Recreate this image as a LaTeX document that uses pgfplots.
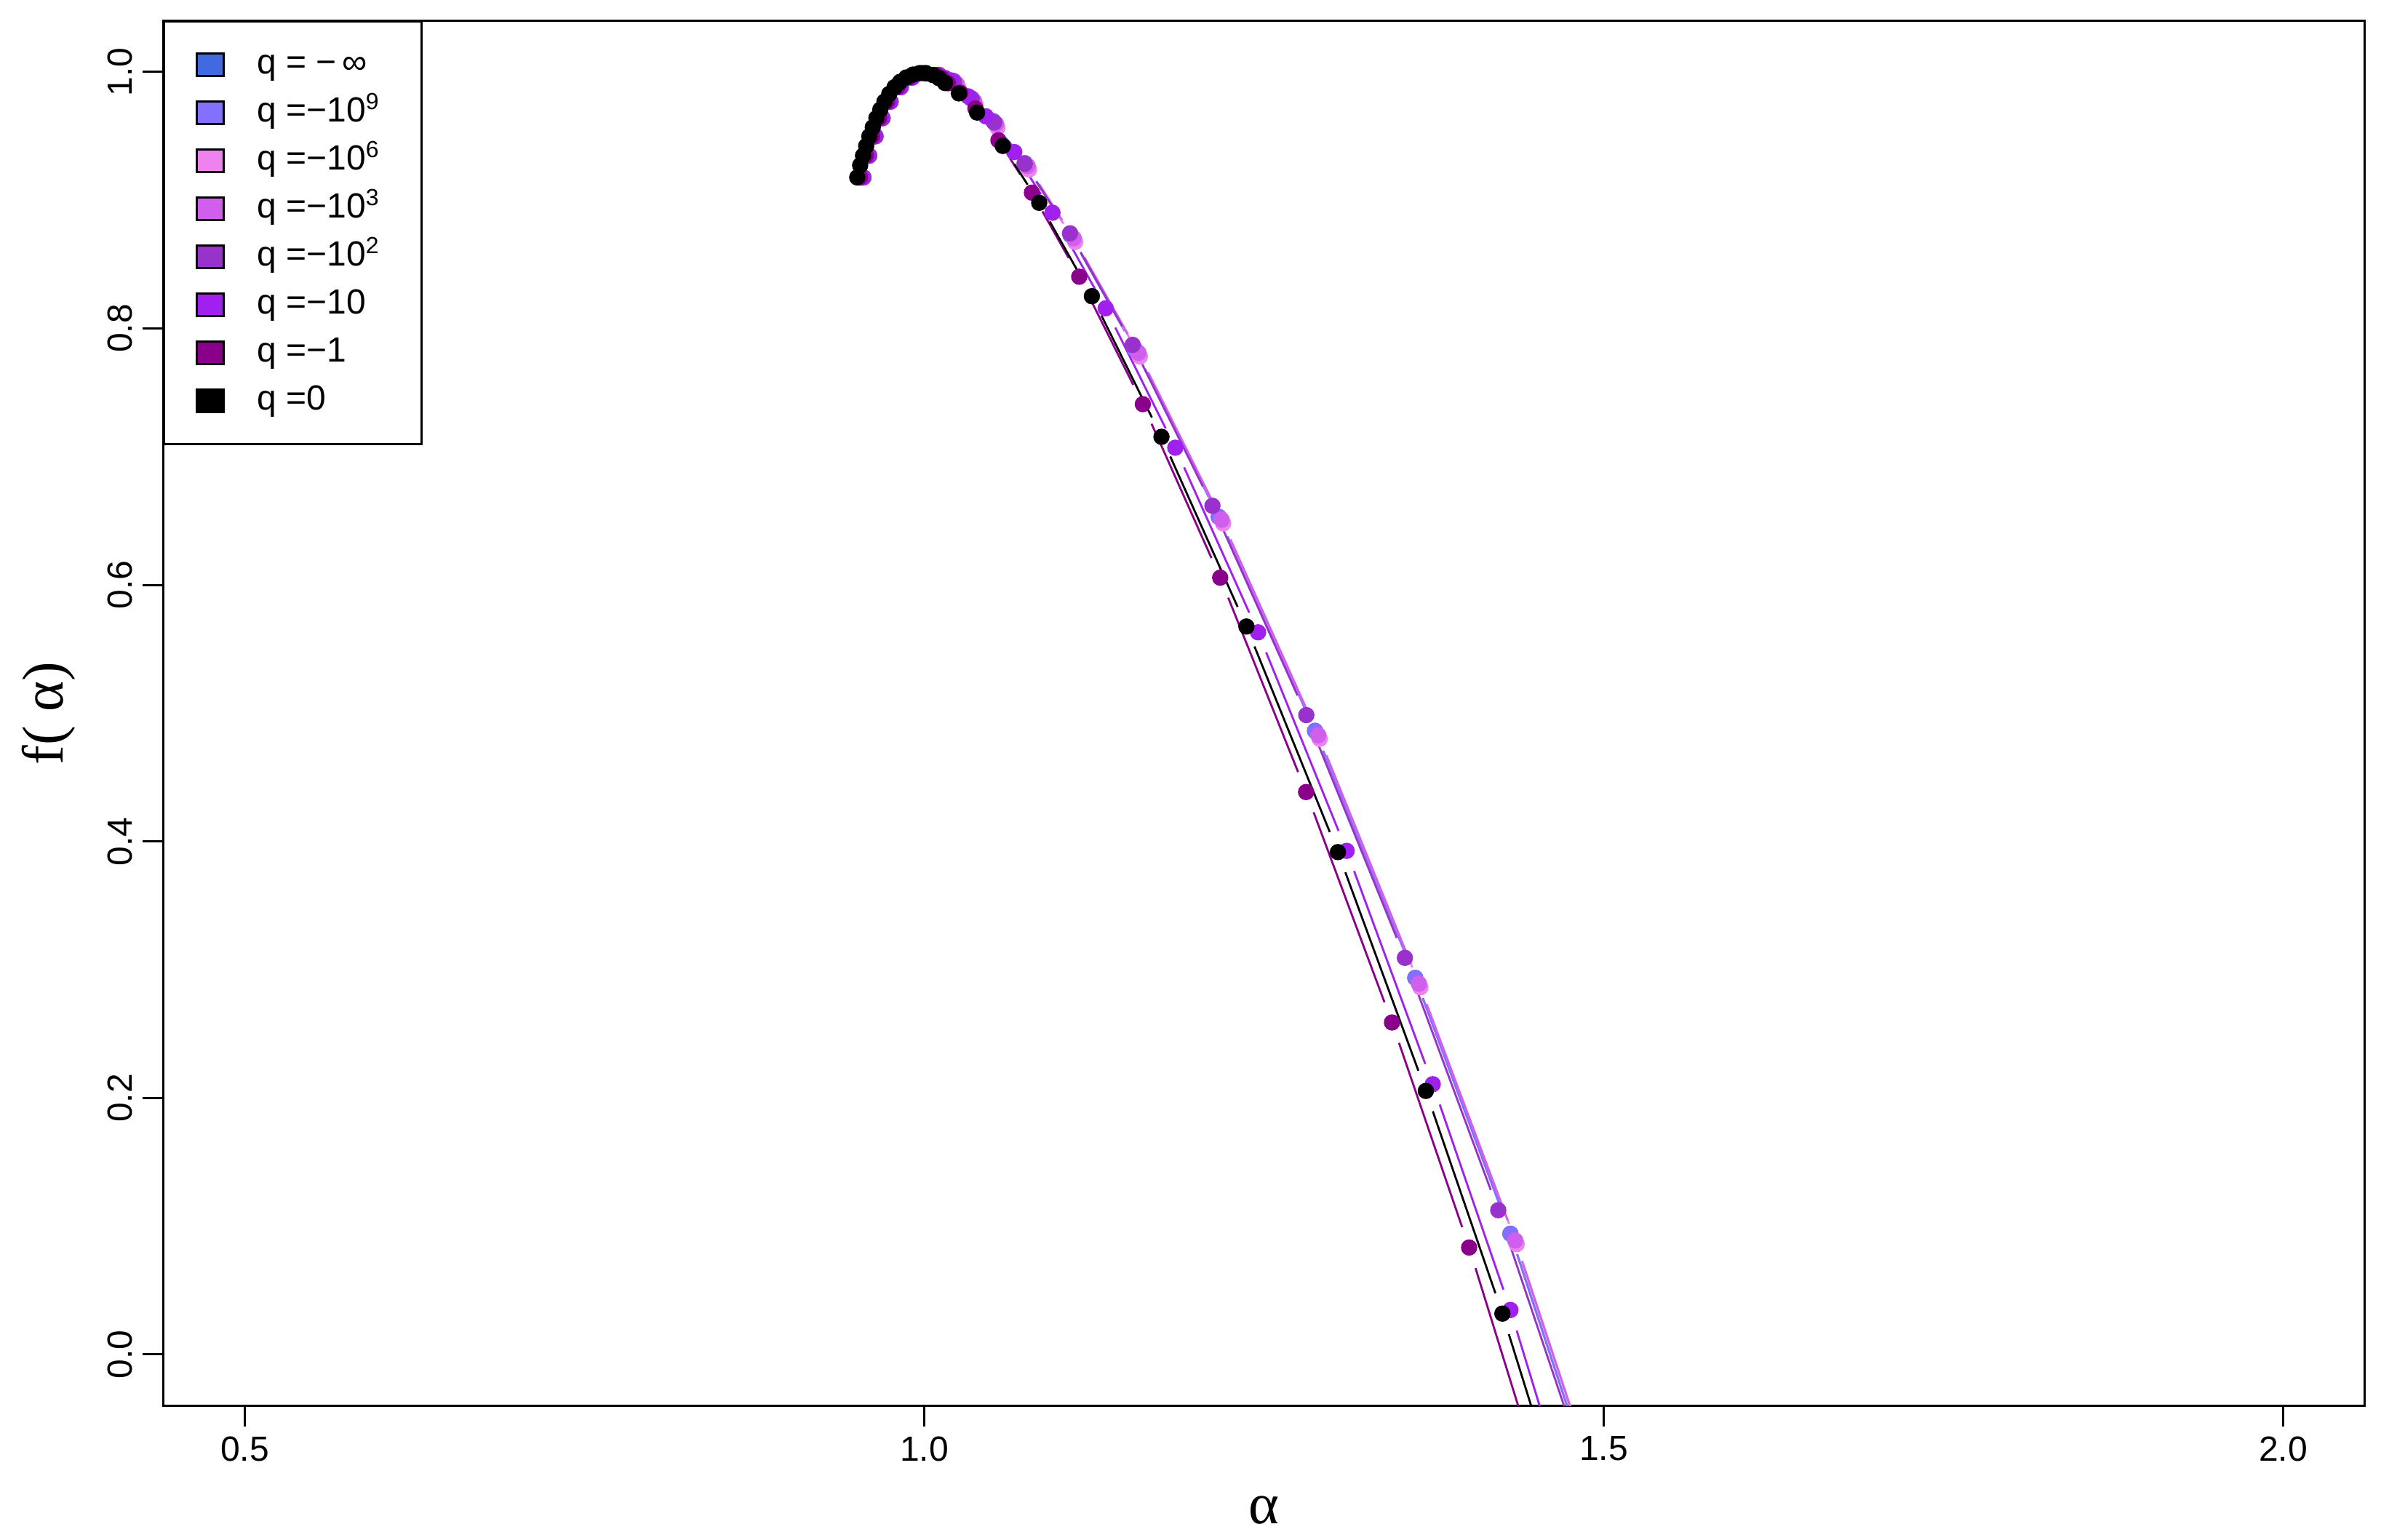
\documentclass[border=0pt]{standalone}
\usepackage{fontspec}
\setmainfont{Liberation Sans}
\newfontfamily\lserif{Liberation Serif}
\usepackage{pgfplots}
\usepackage{pgfplotstable}
\pgfplotsset{compat=1.18}

\definecolor{cR}{HTML}{4169E1}
\definecolor{cL}{HTML}{8470FF}
\definecolor{cV}{HTML}{EE82EE}
\definecolor{cO}{HTML}{D15FEE}
\definecolor{cD}{HTML}{9932CC}
\definecolor{cP}{HTML}{A020F0}
\definecolor{cM}{HTML}{8B008B}

% ---------- points (alpha, f(alpha)) ----------
\pgfplotstableread{
x y
0.95064 0.91772
0.95277 0.92715
0.95491 0.93470
0.95724 0.94225
0.95956 0.94979
0.96206 0.95677
0.96474 0.96394
0.96760 0.97055
0.97063 0.97678
0.97420 0.98281
0.97813 0.98810
0.98223 0.99225
0.98670 0.99564
0.99170 0.99791
0.99652 0.99904
1.00134 0.99885
1.00634 0.99753
1.01080 0.99508
1.01527 0.99130
1.02544 0.98319
1.03883 0.96829
1.05776 0.94225
1.08454 0.89791
1.12330 0.82510
1.17450 0.71546
1.23701 0.56756
1.30434 0.39169
1.36904 0.20547
1.42539 0.03187
}\ptB
\pgfplotstableread{
x y u v
1.05776 0.94225 0.02678 -0.04434
1.08454 0.89791 0.03876 -0.07281
1.12330 0.82510 0.05120 -0.10964
1.17450 0.71546 0.06251 -0.14790
1.23701 0.56756 0.06733 -0.17587
1.30434 0.39169 0.06470 -0.18622
1.36904 0.20547 0.05635 -0.17360
1.42539 0.03187 0.04836 -0.16432
}\sgB

\pgfplotstableread{
x y
0.95264 0.91772
0.95691 0.93470
0.96156 0.94979
0.96674 0.96394
0.97263 0.97678
0.98013 0.98810
0.98870 0.99564
0.99852 0.99904
1.00834 0.99753
1.01280 0.99508
1.01741 0.99111
1.02652 0.98376
1.03760 0.97147
1.05453 0.94668
1.07916 0.90581
1.11398 0.84027
1.16079 0.74093
1.21773 0.60565
1.28093 0.43850
1.34414 0.25885
1.40091 0.08338
}\ptM
\pgfplotstableread{
x y u v
1.05453 0.94668 0.02463 -0.04087
1.07916 0.90581 0.03482 -0.06554
1.11398 0.84027 0.04681 -0.09934
1.16079 0.74093 0.05694 -0.13528
1.21773 0.60565 0.06320 -0.16715
1.28093 0.43850 0.06321 -0.17965
1.34414 0.25885 0.05677 -0.17547
1.40091 0.08338 0.04805 -0.16432
}\sgM

\pgfplotstableread{
x y
0.95414 0.91772
0.95841 0.93470
0.96306 0.94979
0.96824 0.96394
0.97413 0.97678
0.98163 0.98810
0.99020 0.99564
1.00002 0.99904
1.00984 0.99753
1.01430 0.99508
1.01955 0.99338
1.03225 0.98092
1.04526 0.96536
1.06615 0.93751
1.09427 0.89019
1.13347 0.81565
1.18467 0.70697
1.24558 0.56303
1.31077 0.39265
1.37413 0.21073
1.43128 0.03470
}\ptP
\pgfplotstableread{
x y u v
1.06615 0.93751 0.02812 -0.04732
1.09427 0.89019 0.03920 -0.07454
1.13347 0.81565 0.05120 -0.10868
1.18467 0.70697 0.06091 -0.14394
1.24558 0.56303 0.06519 -0.17038
1.31077 0.39265 0.06336 -0.18192
1.37413 0.21073 0.05715 -0.17603
1.43128 0.03470 0.04890 -0.16998
}\sgP

\pgfplotstableread{
x y
0.95514 0.91772
0.95941 0.93470
0.96406 0.94979
0.96924 0.96394
0.97513 0.97678
0.98263 0.98810
0.99120 0.99564
1.00102 0.99904
1.01084 0.99753
1.01530 0.99508
1.02169 0.99225
1.03492 0.97906
1.05142 0.96055
1.07391 0.92828
1.10723 0.87412
1.15329 0.78717
1.21200 0.66169
1.28109 0.49850
1.35361 0.30922
1.42233 0.11247
}\ptD
\pgfplotstableread{
x y u v
1.05142 0.96055 0.02249 -0.03227
1.07391 0.92828 0.03332 -0.05416
1.10723 0.87412 0.04606 -0.08695
1.15329 0.78717 0.05871 -0.12548
1.21200 0.66169 0.06909 -0.16319
1.28109 0.49850 0.07252 -0.18928
1.35361 0.30922 0.06872 -0.19675
1.42233 0.11247 0.06107 -0.19228
}\sgD

\pgfplotstableread{
x y
0.95514 0.91772
0.95941 0.93470
0.96406 0.94979
0.96924 0.96394
0.97513 0.97678
0.98263 0.98810
0.99120 0.99564
1.00102 0.99904
1.01084 0.99753
1.01530 0.99508
1.02383 0.99055
1.03669 0.97696
1.05276 0.95942
1.07595 0.92670
1.10991 0.87027
1.15758 0.78095
1.21880 0.65076
1.28988 0.48282
1.36395 0.28907
1.43482 0.08887
}\ptO
\pgfplotstableread{
x y u v
1.05276 0.95942 0.02319 -0.03272
1.07595 0.92670 0.03396 -0.05643
1.10991 0.87027 0.04767 -0.08932
1.15758 0.78095 0.06122 -0.13019
1.21880 0.65076 0.07108 -0.16794
1.28988 0.48282 0.07407 -0.19375
1.36395 0.28907 0.07087 -0.20020
1.43482 0.08887 0.06357 -0.20377
}\sgO

\pgfplotstableread{
x y
0.95514 0.91772
0.95941 0.93470
0.96406 0.94979
0.96924 0.96394
0.97513 0.97678
0.98263 0.98810
0.99120 0.99564
1.00102 0.99904
1.01084 0.99753
1.01530 0.99508
1.02490 0.98772
1.03776 0.97413
1.05383 0.95659
1.07702 0.92387
1.11098 0.86744
1.15865 0.77812
1.21987 0.64793
1.29095 0.47999
1.36502 0.28624
1.43589 0.08604
}\ptV
\pgfplotstableread{
x y u v
1.05383 0.95659 0.02319 -0.03272
1.07702 0.92387 0.03396 -0.05643
1.11098 0.86744 0.04767 -0.08932
1.15865 0.77812 0.06122 -0.13019
1.21987 0.64793 0.07108 -0.16794
1.29095 0.47999 0.07407 -0.19375
1.36502 0.28624 0.07087 -0.20020
1.43589 0.08604 0.06357 -0.20377
}\sgV

\pgfplotstableread{
x y
0.95514 0.91772
0.95941 0.93470
0.96406 0.94979
0.96924 0.96394
0.97513 0.97678
0.98263 0.98810
0.99120 0.99564
1.00102 0.99904
1.01084 0.99753
1.01530 0.99508
1.02169 0.99281
1.03455 0.97923
1.05061 0.96168
1.07381 0.92885
1.10766 0.87282
1.15522 0.78338
1.21666 0.65303
1.28752 0.48622
1.36127 0.29360
1.43128 0.09413
}\ptL
\pgfplotstableread{
x y u v
1.05061 0.96168 0.02320 -0.03283
1.07381 0.92885 0.03385 -0.05603
1.10766 0.87282 0.04756 -0.08944
1.15522 0.78338 0.06144 -0.13035
1.21666 0.65303 0.07086 -0.16681
1.28752 0.48622 0.07375 -0.19262
1.36127 0.29360 0.07001 -0.19947
1.43128 0.09413 0.06283 -0.20224
}\sgL

\newcommand{\drawseries}[3]{%
  \addplot[forget plot, color=#1, line width=0.7pt, no marks,
    quiver={u=\thisrow{u}, v=\thisrow{v},
      every arrow/.append style={-, shorten <=7.4pt, shorten >=7.4pt}}]
    table[x=x, y=y] {#3};
  \addplot[forget plot, color=#1, only marks, mark=*, mark size=2.5pt,
    mark options={fill=#1, draw=#1, line width=0.6pt}] table[x=x, y=y] {#2};
}

\pgfplotsset{legbox/.style={legend image code/.code={%
  \draw[fill=#1, draw=black, line width=0.75pt] (0pt,-3.85pt) rectangle (9.4pt,3.85pt);}}}

\begin{document}
\begin{tikzpicture}
\begin{axis}[
  width=756.55pt, height=476.05pt, scale only axis,
  xmin=0.44, xmax=2.06, ymin=-0.04, ymax=1.04,
  axis line style={line width=0.75pt, black},
  xtick={0.5,1,1.5,2}, xticklabels={0.5,1.0,1.5,2.0},
  ytick={0,0.2,0.4,0.6,0.8,1}, yticklabels={0.0,0.2,0.4,0.6,0.8,1.0},
  tick align=outside, major tick length=7.2pt,
  tick style={line width=0.75pt, black},
  xtick pos=bottom, ytick pos=left,
  tick label style={font=\fontsize{12}{14}\selectfont, inner sep=0pt},
  xticklabel shift=3.2pt, yticklabel shift=3.2pt,
  xticklabel style={anchor=north},
  yticklabel style={rotate=90, anchor=south},
  xlabel={\lserif α},
  ylabel={\lserif f( α)},
  xlabel style={at={(axis description cs:0.5,-0.0756)}, anchor=center, font=\fontsize{20}{24}\selectfont, inner sep=0pt},
  ylabel style={at={(axis description cs:-0.0520,0.5)}, anchor=center, font=\fontsize{20}{24}\selectfont, inner sep=0pt},
  legend cell align=left,
  legend style={at={(0,1)}, anchor=north west, draw=black, line width=0.75pt,
    fill=white, inner xsep=10.7pt, inner ysep=9pt, row sep=4.9pt, column sep=11pt,
    nodes={inner sep=0pt, text height=9pt, text depth=2.6pt},
    font=\fontsize{12}{14}\selectfont},
]
\drawseries{cR}{\ptL}{\sgL}
\drawseries{cL}{\ptL}{\sgL}
\drawseries{cV}{\ptV}{\sgV}
\drawseries{cO}{\ptO}{\sgO}
\drawseries{cD}{\ptD}{\sgD}
\drawseries{cP}{\ptP}{\sgP}
\drawseries{cM}{\ptM}{\sgM}
\drawseries{black}{\ptB}{\sgB}

\addlegendimage{legbox=cR}\addlegendentry{\makebox[45.8pt][l]{q = −\,∞}}
\addlegendimage{legbox=cL}\addlegendentry{\makebox[45.8pt][l]{q =−10\textsuperscript{9}}}
\addlegendimage{legbox=cV}\addlegendentry{\makebox[45.8pt][l]{q =−10\textsuperscript{6}}}
\addlegendimage{legbox=cO}\addlegendentry{\makebox[45.8pt][l]{q =−10\textsuperscript{3}}}
\addlegendimage{legbox=cD}\addlegendentry{\makebox[45.8pt][l]{q =−10\textsuperscript{2}}}
\addlegendimage{legbox=cP}\addlegendentry{\makebox[45.8pt][l]{q =−10}}
\addlegendimage{legbox=cM}\addlegendentry{\makebox[45.8pt][l]{q =−1}}
\addlegendimage{legbox=black}\addlegendentry{\makebox[45.8pt][l]{q =0}}
\end{axis}
\path ([xshift=-56.125pt,yshift=-46.125pt]current axis.south west)
  rectangle ([xshift=5.575pt,yshift=7.075pt]current axis.north east);
\end{tikzpicture}
\end{document}
